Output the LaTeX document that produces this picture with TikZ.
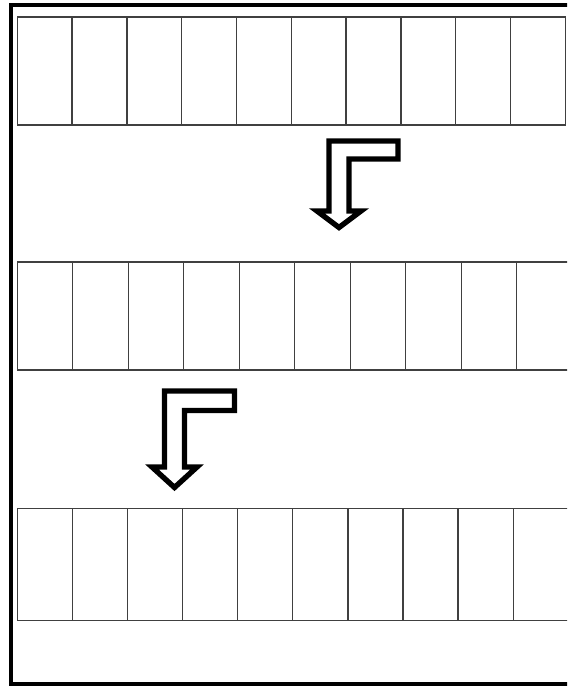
\documentclass[tikz,border=0pt]{standalone}
\usetikzlibrary{positioning}

\begin{document}
\begin{tikzpicture}[x=0.05cm,y=-0.05cm]
\tikzstyle{cell}=[draw=black!75,line width=1.8pt,inner sep=0pt,outer sep=0pt,anchor=north west]
\tikzstyle{larrow}=[draw,line width=7.6pt,line join=miter,fill=white]
\useasboundingbox (0,0) rectangle (567,687);
\clip (0,0) rectangle (567,687);
\draw[line width=5.7pt] (11,5) rectangle (600,683.5);
% three rows of ten cells
\foreach \i in {0,...,9} {
  \node[cell,minimum width=2.74cm,minimum height=5.4cm] (a\i) at (17.3+54.8*\i,17) {};
  \node[cell,minimum width=2.775cm,minimum height=5.4cm] (b\i) at (17.3+55.5*\i,262) {};
  \node[cell,minimum width=2.755cm,minimum height=5.6cm] (c\i) at (17.3+55.1*\i,508.3) {};
}
% bent arrows
\draw[larrow] (329,141) -- (398,141) -- (398,159) -- (349,159) -- (349,211)
  -- (361,211) -- (339,227.5) -- (317,211) -- (329,211) -- cycle;
\draw[larrow] (164.5,391) -- (234.5,391) -- (234.5,410.5) -- (184.5,410.5) -- (184.5,467)
  -- (197,467) -- (174.5,487.5) -- (152,467) -- (164.5,467) -- cycle;
\end{tikzpicture}
\end{document}
